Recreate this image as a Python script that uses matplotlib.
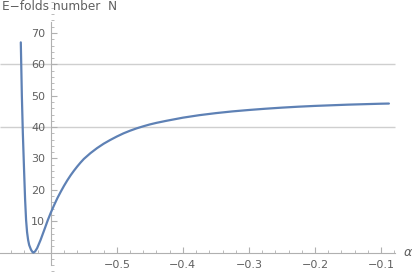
import matplotlib.pyplot as plt
from matplotlib.ticker import MultipleLocator, FixedLocator

# curve (alpha, N)
alpha = [-0.6455, -0.6439, -0.6424, -0.6405, -0.6390, -0.6375, -0.6360, -0.6344,
         -0.6328, -0.6300, -0.6275, -0.6262, -0.6238, -0.6208, -0.6156, -0.6100,
         -0.6045, -0.6000, -0.5950, -0.5900, -0.5850, -0.5800, -0.5750, -0.5700,
         -0.5650, -0.5600, -0.5550, -0.5500, -0.5400, -0.5300, -0.5200, -0.5100,
         -0.5000, -0.4900, -0.4800, -0.4700, -0.4600, -0.4500, -0.4400, -0.4250,
         -0.4000, -0.3750, -0.3500, -0.3250, -0.3000, -0.2750, -0.2500, -0.2250,
         -0.2000, -0.1750, -0.1500, -0.1250, -0.1000, -0.0880]
N = [67.0, 50.0, 38.0, 26.0, 17.0, 10.4, 6.5, 4.0,
     2.4, 0.9, 0.1, 0.0, 0.4, 1.4, 4.0, 7.2,
     10.4, 12.75, 15.15, 17.4, 19.4, 21.3, 23.05, 24.65,
     26.1, 27.45, 28.7, 29.85, 31.7, 33.3, 34.7, 35.9,
     37.0, 38.0, 38.85, 39.6, 40.25, 40.85, 41.35, 42.0,
     43.0, 43.8, 44.45, 45.0, 45.45, 45.85, 46.2, 46.5,
     46.75, 46.95, 47.15, 47.3, 47.45, 47.5]
grid_y = [40, 60]
xticks = [-0.5, -0.4, -0.3, -0.2, -0.1]
yticks = [10, 20, 30, 40, 50, 60, 70]

axcol = '#b0b0b0'
txtcol = '#606060'

fig = plt.figure(figsize=(4.14, 2.73), dpi=100)
ax = fig.add_axes([0, 0, 1, 1])
ax.set_xlim(-0.677, -0.05)
ax.set_ylim(-6.5, 80.5)

ax.hlines(grid_y, -0.677, -0.079, color='#cfcfcf', lw=1.0, zorder=1)
ax.plot(alpha, N, color='#5E81B5', lw=1.6, zorder=3, solid_capstyle='round')

for s in ['top', 'right']:
    ax.spines[s].set_visible(False)
ax.spines['left'].set_position(('data', -0.6))
ax.spines['bottom'].set_position(('data', 0))
ax.spines['left'].set_bounds(-4, 73.5)
ax.spines['bottom'].set_bounds(-0.677, -0.079)
for s in ['left', 'bottom']:
    ax.spines[s].set_color(axcol)
    ax.spines[s].set_linewidth(0.8)

ax.xaxis.set_major_locator(FixedLocator([-0.6] + xticks))
ax.set_xticklabels([''] + ['\u2212%.1f' % abs(v) for v in xticks])
ax.xaxis.set_minor_locator(FixedLocator([round(-0.66 + 0.02 * i, 2) for i in range(30)]))
ax.yaxis.set_major_locator(FixedLocator(yticks))
ax.yaxis.set_minor_locator(MultipleLocator(2))

ax.tick_params(which='both', direction='in', colors=axcol, labelcolor=txtcol, labelsize=8)
ax.tick_params(which='major', length=4, width=0.8)
ax.tick_params(which='minor', length=2.2, width=0.6)
ax.tick_params(axis='x', pad=5)
ax.tick_params(axis='y', pad=4)

fig.text(0.006, 0.976, 'E\u2212folds number  N', fontsize=8.7, color=txtcol, va='center', ha='left')
ax.text(-0.066, 0, '\u03b1', fontsize=9, color=txtcol, style='italic', va='center', ha='left')

fig.savefig('out.png', dpi=100)
